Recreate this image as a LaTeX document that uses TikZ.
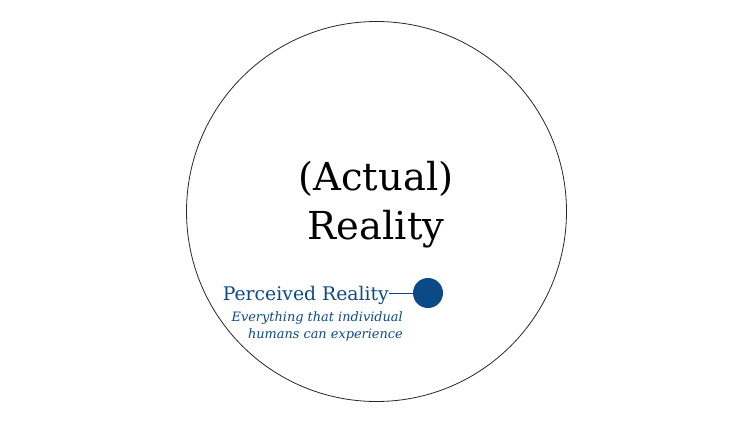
\documentclass[tikz,border=0pt]{standalone}
\usepackage{fontspec}
\setmainfont{DejaVu Serif}
\definecolor{percblue}{HTML}{0B4A86}

\begin{document}
\begin{tikzpicture}[x=1pt,y=-1pt]
  \tikzstyle{every node}+=[inner sep=0pt]
  \useasboundingbox (0,0) rectangle (752,421);
  \draw [black!85, line width=0.8pt] (376.5,211.5) circle (190);
  \node (actual) [align=center, font=\fontsize{38.5}{49}\selectfont] at (376,205) {(Actual)\\Reality};
  \fill [percblue] (428,293) circle (15);
  \coordinate (dot) at (413,293);
  \node (perc) [anchor=base east, text=percblue, font=\fontsize{18.8}{20}\selectfont] at (389,300) {Perceived Reality};
  \draw [percblue, line width=0.7pt] (perc.east |- dot) -- (dot);
  \node (desc) [anchor=north east, align=right, text=percblue, font=\fontsize{12.9}{17}\selectfont\itshape] at (403,311) {Everything that individual\\humans can experience};
\end{tikzpicture}
\end{document}
